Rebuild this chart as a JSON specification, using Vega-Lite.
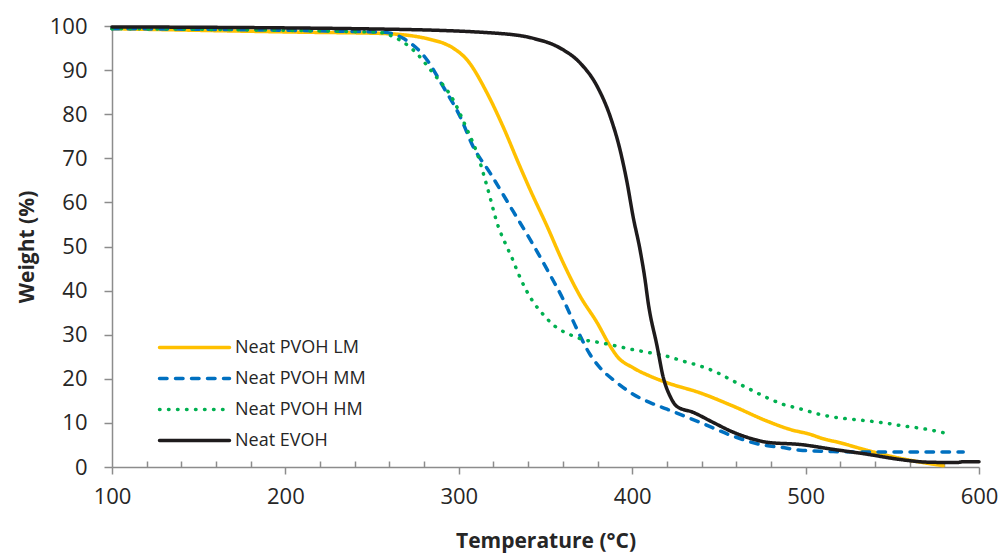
{
  "$schema": "https://vega.github.io/schema/vega-lite/v6.json",
  "autosize": {"type": "none"},
  "padding": {"left": 112, "top": 26, "right": 22, "bottom": 87},
  "width": 867,
  "height": 441,
  "background": "white",
  "config": {
    "view": {"stroke": null},
    "font": "Open Sans",
    "axis": {"domainColor": "#8c8c8c", "tickColor": "#8c8c8c", "labelColor": "#262626", "titleColor": "#262626", "labelFont": "Open Sans", "titleFont": "Open Sans", "grid": false, "domainWidth": 1.5, "tickWidth": 1.5}
  },
  "data": {"values": [
    {"s":"Neat PVOH LM","t":100,"w":99.4},
    {"s":"Neat PVOH LM","t":208.4,"w":98.6},
    {"s":"Neat PVOH LM","t":256.3,"w":98.3},
    {"s":"Neat PVOH LM","t":285.2,"w":96.8},
    {"s":"Neat PVOH LM","t":296.7,"w":95.0},
    {"s":"Neat PVOH LM","t":304.8,"w":92.3},
    {"s":"Neat PVOH LM","t":316.3,"w":84.8},
    {"s":"Neat PVOH LM","t":325.5,"w":77.2},
    {"s":"Neat PVOH LM","t":335.3,"w":68.1},
    {"s":"Neat PVOH LM","t":341.1,"w":62.9},
    {"s":"Neat PVOH LM","t":350.9,"w":54.6},
    {"s":"Neat PVOH LM","t":360.2,"w":46.3},
    {"s":"Neat PVOH LM","t":370.0,"w":38.7},
    {"s":"Neat PVOH LM","t":379.8,"w":32.7},
    {"s":"Neat PVOH LM","t":387.3,"w":27.4},
    {"s":"Neat PVOH LM","t":391.3,"w":25.1},
    {"s":"Neat PVOH LM","t":400.5,"w":22.5},
    {"s":"Neat PVOH LM","t":410.3,"w":20.6},
    {"s":"Neat PVOH LM","t":420.1,"w":19.1},
    {"s":"Neat PVOH LM","t":439.2,"w":16.8},
    {"s":"Neat PVOH LM","t":458.2,"w":13.8},
    {"s":"Neat PVOH LM","t":477.8,"w":10.4},
    {"s":"Neat PVOH LM","t":491.1,"w":8.5},
    {"s":"Neat PVOH LM","t":502.6,"w":7.4},
    {"s":"Neat PVOH LM","t":510.1,"w":6.4},
    {"s":"Neat PVOH LM","t":519.9,"w":5.5},
    {"s":"Neat PVOH LM","t":529.7,"w":4.4},
    {"s":"Neat PVOH LM","t":539.0,"w":3.4},
    {"s":"Neat PVOH LM","t":552.8,"w":2.1},
    {"s":"Neat PVOH LM","t":567.8,"w":1.0},
    {"s":"Neat PVOH LM","t":579.3,"w":0.3},

    {"s":"Neat PVOH MM","t":100,"w":99.4},
    {"s":"Neat PVOH MM","t":256.3,"w":98.6},
    {"s":"Neat PVOH MM","t":267.9,"w":97.2},
    {"s":"Neat PVOH MM","t":281.7,"w":92.3},
    {"s":"Neat PVOH MM","t":290.9,"w":86.3},
    {"s":"Neat PVOH MM","t":300.7,"w":79.5},
    {"s":"Neat PVOH MM","t":308.2,"w":72.7},
    {"s":"Neat PVOH MM","t":318.0,"w":66.7},
    {"s":"Neat PVOH MM","t":331.3,"w":58.0},
    {"s":"Neat PVOH MM","t":341.1,"w":51.6},
    {"s":"Neat PVOH MM","t":350.9,"w":44.8},
    {"s":"Neat PVOH MM","t":360.2,"w":38.0},
    {"s":"Neat PVOH MM","t":368.2,"w":31.2},
    {"s":"Neat PVOH MM","t":375.7,"w":25.5},
    {"s":"Neat PVOH MM","t":381.5,"w":22.5},
    {"s":"Neat PVOH MM","t":391.3,"w":19.1},
    {"s":"Neat PVOH MM","t":400.5,"w":16.5},
    {"s":"Neat PVOH MM","t":410.3,"w":14.6},
    {"s":"Neat PVOH MM","t":420.1,"w":13.1},
    {"s":"Neat PVOH MM","t":439.2,"w":10.1},
    {"s":"Neat PVOH MM","t":458.2,"w":7.0},
    {"s":"Neat PVOH MM","t":473.8,"w":5.1},
    {"s":"Neat PVOH MM","t":487.1,"w":4.4},
    {"s":"Neat PVOH MM","t":496.9,"w":3.8},
    {"s":"Neat PVOH MM","t":515.9,"w":3.5},
    {"s":"Neat PVOH MM","t":535.5,"w":3.4},
    {"s":"Neat PVOH MM","t":590.9,"w":3.4},

    {"s":"Neat PVOH HM","t":100,"w":99.4},
    {"s":"Neat PVOH HM","t":252.9,"w":98.6},
    {"s":"Neat PVOH HM","t":262.1,"w":97.6},
    {"s":"Neat PVOH HM","t":273.6,"w":94.6},
    {"s":"Neat PVOH HM","t":285.2,"w":89.3},
    {"s":"Neat PVOH HM","t":296.7,"w":83.3},
    {"s":"Neat PVOH HM","t":304.8,"w":76.5},
    {"s":"Neat PVOH HM","t":310.5,"w":71.2},
    {"s":"Neat PVOH HM","t":316.3,"w":63.6},
    {"s":"Neat PVOH HM","t":322.7,"w":54.6},
    {"s":"Neat PVOH HM","t":326.7,"w":50.8},
    {"s":"Neat PVOH HM","t":330.7,"w":47.4},
    {"s":"Neat PVOH HM","t":334.2,"w":44.0},
    {"s":"Neat PVOH HM","t":338.2,"w":40.6},
    {"s":"Neat PVOH HM","t":342.8,"w":37.5},
    {"s":"Neat PVOH HM","t":348.6,"w":34.6},
    {"s":"Neat PVOH HM","t":355.5,"w":31.9},
    {"s":"Neat PVOH HM","t":364.2,"w":30.0},
    {"s":"Neat PVOH HM","t":371.7,"w":28.9},
    {"s":"Neat PVOH HM","t":381.5,"w":28.2},
    {"s":"Neat PVOH HM","t":391.3,"w":27.4},
    {"s":"Neat PVOH HM","t":400.5,"w":26.6},
    {"s":"Neat PVOH HM","t":410.3,"w":25.9},
    {"s":"Neat PVOH HM","t":420.1,"w":25.1},
    {"s":"Neat PVOH HM","t":429.4,"w":24.0},
    {"s":"Neat PVOH HM","t":439.2,"w":22.9},
    {"s":"Neat PVOH HM","t":449.0,"w":21.4},
    {"s":"Neat PVOH HM","t":458.2,"w":19.5},
    {"s":"Neat PVOH HM","t":468.0,"w":17.6},
    {"s":"Neat PVOH HM","t":477.8,"w":15.7},
    {"s":"Neat PVOH HM","t":487.1,"w":14.2},
    {"s":"Neat PVOH HM","t":496.9,"w":13.2},
    {"s":"Neat PVOH HM","t":508.4,"w":11.9},
    {"s":"Neat PVOH HM","t":518.2,"w":11.2},
    {"s":"Neat PVOH HM","t":527.4,"w":10.8},
    {"s":"Neat PVOH HM","t":537.2,"w":10.4},
    {"s":"Neat PVOH HM","t":547.0,"w":9.9},
    {"s":"Neat PVOH HM","t":556.3,"w":9.3},
    {"s":"Neat PVOH HM","t":566.1,"w":8.8},
    {"s":"Neat PVOH HM","t":579.3,"w":7.8},

    {"s":"Neat EVOH","t":100,"w":99.8},
    {"s":"Neat EVOH","t":256.0,"w":99.3},
    {"s":"Neat EVOH","t":323.8,"w":98.3},
    {"s":"Neat EVOH","t":342.9,"w":97.2},
    {"s":"Neat EVOH","t":358.4,"w":95.0},
    {"s":"Neat EVOH","t":370.0,"w":91.6},
    {"s":"Neat EVOH","t":379.8,"w":86.3},
    {"s":"Neat EVOH","t":387.3,"w":79.5},
    {"s":"Neat EVOH","t":393.0,"w":71.9},
    {"s":"Neat EVOH","t":397.1,"w":64.4},
    {"s":"Neat EVOH","t":400.5,"w":56.8},
    {"s":"Neat EVOH","t":404.5,"w":49.3},
    {"s":"Neat EVOH","t":407.4,"w":42.5},
    {"s":"Neat EVOH","t":409.2,"w":37.3},
    {"s":"Neat EVOH","t":414.4,"w":27.3},
    {"s":"Neat EVOH","t":417.8,"w":20.5},
    {"s":"Neat EVOH","t":421.9,"w":16.0},
    {"s":"Neat EVOH","t":425.9,"w":13.7},
    {"s":"Neat EVOH","t":435.1,"w":12.4},
    {"s":"Neat EVOH","t":446.7,"w":10.1},
    {"s":"Neat EVOH","t":458.2,"w":7.9},
    {"s":"Neat EVOH","t":469.8,"w":6.3},
    {"s":"Neat EVOH","t":477.8,"w":5.6},
    {"s":"Neat EVOH","t":496.9,"w":5.1},
    {"s":"Neat EVOH","t":515.9,"w":4.0},
    {"s":"Neat EVOH","t":535.5,"w":2.9},
    {"s":"Neat EVOH","t":554.5,"w":1.7},
    {"s":"Neat EVOH","t":570.1,"w":1.1},
    {"s":"Neat EVOH","t":587.4,"w":1.0},
    {"s":"Neat EVOH","t":590.9,"w":1.2},
    {"s":"Neat EVOH","t":600,"w":1.2}
  ]},
  "mark": {"type": "line", "strokeWidth": 3.5, "strokeCap": "round", "interpolate": "monotone"},
  "encoding": {
    "x": {"field": "t", "type": "quantitative", "title": "Temperature (°C)",
      "scale": {"domain": [100, 600], "nice": false, "zero": false},
      "axis": {"values": [100,120,140,160,180,200,220,240,260,280,300,320,340,360,380,400,420,440,460,480,500,520,540,560,580,600],
        "labelExpr": "datum.value % 100 === 0 ? datum.label : ''",
        "tickSize": {"condition": {"test": "datum.value % 100 === 0", "value": 7}, "value": -6},
        "labelFontSize": 22, "labelPadding": 12, "labelFlush": false,
        "titleFontSize": 21, "titleFontWeight": "bold", "titlePadding": 23}},
    "y": {"field": "w", "type": "quantitative", "title": "Weight (%)",
      "scale": {"domain": [0, 100], "nice": false},
      "axis": {"values": [0,10,20,30,40,50,60,70,80,90,100], "tickSize": 8,
        "labelFontSize": 22, "labelPadding": 17, "titleFontSize": 21, "titleFontWeight": "bold", "titlePadding": 12}},
    "color": {"field": "s", "type": "nominal",
      "scale": {"domain": ["Neat PVOH LM","Neat PVOH MM","Neat PVOH HM","Neat EVOH"], "range": ["#FFC000","#0070C0","#00B050","#1E1B1C"]},
      "legend": {"title": null, "orient": "none", "legendX": 69, "legendY": 308, "symbolType": "M-3,0H3", "symbolSize": 544, "symbolStrokeWidth": 3.5, "labelFontSize": 18, "labelColor": "#262626", "labelOffset": 27, "rowPadding": 8, "padding": 0,
        "encode": {"symbols": {"update": {"strokeCap": {"value": "round"}}}}}},
    "strokeDash": {"field": "s", "type": "nominal",
      "scale": {"domain": ["Neat PVOH LM","Neat PVOH MM","Neat PVOH HM","Neat EVOH"], "range": [[1,0],[7.5,8.5],[0.5,8.5],[1,0]]},
      "legend": {"title": null, "orient": "none", "legendX": 69, "legendY": 308, "symbolType": "M-3,0H3", "symbolSize": 544, "symbolStrokeWidth": 3.5, "labelFontSize": 18, "labelColor": "#262626", "labelOffset": 27, "rowPadding": 8, "padding": 0,
        "encode": {"symbols": {"update": {"strokeCap": {"value": "round"}}}}}}
  }
}
